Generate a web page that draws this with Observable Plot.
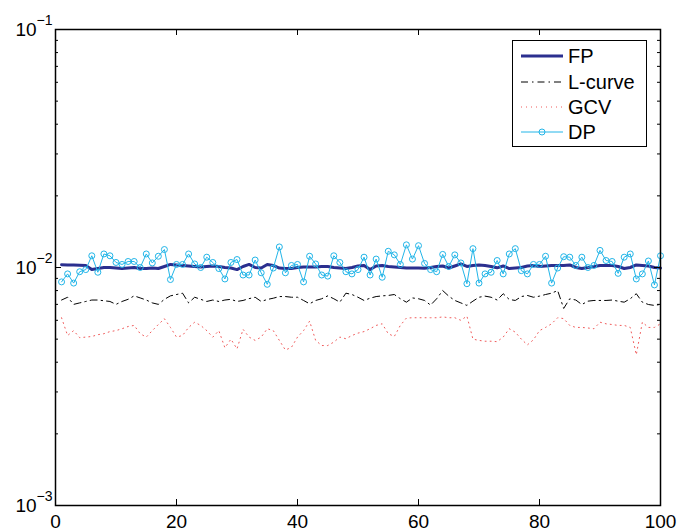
<!DOCTYPE html>
<html><head><meta charset="utf-8">
<script src="https://cdn.jsdelivr.net/npm/d3@7"></script>
<script src="https://cdn.jsdelivr.net/npm/@observablehq/plot@0.6"></script>
<style>
body{margin:0;background:#fff;}
#wrap{position:relative;width:679px;height:532px;font-family:'Liberation Sans',Arial,Helvetica,sans-serif;}
#legend{position:absolute;left:512px;top:40px;width:133px;height:105px;border:1.5px solid #000;background:#fff;}
.row{position:absolute;left:0;height:24px;display:flex;align-items:center;}
.row svg{margin-left:8px;}
.row span{margin-left:5px;font-size:20px;color:#000;line-height:24px;}
</style></head><body><div id="wrap"></div>
<script>
// iteration index (x) and series values (units of 1e-3)
const iterations = d3.range(1, 101);
const seriesNames = ["FP", "L-curve", "GCV", "DP"];
const fp = [10.26,10.25,10.24,10.22,10.2,9.8,9.9,10.0,10.0,9.95,9.9,9.95,10.0,9.9,9.9,9.95,9.9,10.1,10.3,10.25,
10.2,10.15,10.1,10.05,10.1,10.15,10.1,10.0,9.95,9.8,10.1,10.3,10.0,9.95,10.3,10.2,9.95,9.9,9.9,10.0,
10.05,10.05,10.05,10.1,10.1,10.0,9.95,9.9,10.0,10.15,10.2,9.8,10.15,10.2,10.1,10.05,10.0,9.95,9.95,9.95,
9.93,10.0,10.1,10.15,9.95,10.15,10.35,10.1,10.2,10.25,10.2,10.1,9.97,10.15,9.9,9.95,10.0,10.15,10.2,10.1,
10.15,10.2,10.2,10.2,10.25,10.0,9.9,10.0,10.1,10.2,10.2,10.2,10.1,9.9,10.0,10.25,10.2,10.15,10.0,9.95];
const lcurve = [7.3,7.5,7.0,7.1,7.2,7.3,7.3,7.25,7.2,7.0,7.2,7.35,7.6,7.45,7.3,7.1,7.0,7.35,7.6,7.7,
7.8,7.1,7.5,7.35,7.2,7.3,7.2,7.3,7.35,7.2,7.27,7.4,7.5,7.2,7.34,7.43,7.55,7.55,7.5,7.5,
7.27,7.04,7.27,7.39,7.6,7.39,7.15,7.8,7.7,7.5,7.27,7.43,7.55,7.6,7.63,7.7,7.39,7.15,7.45,7.39,
7.27,6.95,7.39,8.0,7.58,7.27,7.1,6.93,7.22,7.5,7.58,7.5,7.3,7.76,7.34,7.27,7.55,7.63,7.5,7.58,
7.7,7.8,8.0,6.73,7.39,7.3,6.99,7.22,7.27,7.27,7.27,7.3,7.22,7.15,7.39,7.76,7.15,6.99,6.93,7.0];
const gcv = [6.15,5.18,5.43,5.07,5.1,5.13,5.22,5.27,5.38,5.43,5.53,5.65,5.71,5.27,5.1,5.43,5.76,6.09,5.6,5.1,
5.18,5.6,5.89,5.71,5.43,5.1,5.43,4.6,5.0,4.55,5.5,5.1,4.94,5.1,5.53,5.43,4.94,4.5,4.62,5.1,
5.43,5.95,4.94,4.7,4.7,4.86,5.1,5.02,5.18,5.3,5.38,5.53,5.71,5.8,5.27,5.13,5.71,6.13,6.15,6.15,
6.15,6.15,6.15,6.2,6.15,6.15,6.0,6.25,5.0,4.94,4.9,4.9,4.88,5.1,5.53,5.35,5.0,4.73,4.97,5.43,
5.6,5.8,6.15,6.1,5.71,5.6,5.6,5.57,5.53,5.89,5.8,5.76,5.71,5.71,5.6,4.3,5.89,5.6,5.6,5.8];
const dp = [8.7,9.4,8.6,9.6,9.8,11.2,9.55,11.4,11.2,10.5,10.3,10.6,10.6,10.0,11.4,10.45,11.15,11.9,8.9,10.3,
10.3,11.4,10.35,10.0,11.05,10.5,9.9,8.95,10.5,10.8,9.3,9.3,10.75,9.5,8.5,9.95,12.2,9.5,10.2,10.3,
8.7,11.15,10.35,9.3,9.2,11.2,10.5,9.6,9.4,9.8,11.05,9.3,10.85,9.1,11.7,11.3,10.3,12.45,10.85,12.35,
10.4,9.8,9.6,11.35,10.1,11.3,10.45,8.55,12.0,8.6,9.4,9.55,10.7,9.4,11.4,12.0,9.7,9.4,10.3,10.3,
11.15,8.6,9.95,11.1,11.05,10.2,11.05,10.0,10.2,11.8,10.7,10.6,9.45,11.05,11.4,8.95,9.4,10.65,8.45,11.2];

const xTicks = [0, 20, 40, 60, 80, 100];
const yMajorTicks = [0.001, 0.01, 0.1];
const yMinorTicks = [0.002,0.003,0.004,0.005,0.006,0.007,0.008,0.009,0.02,0.03,0.04,0.05,0.06,0.07,0.08,0.09];

const colors = {FP: "#2b2f8f", "L-curve": "#000000", GCV: "#f05a5a", DP: "#22b5e8"};

const table = iterations.map((it, i) => ({
  it, fp: fp[i] * 1e-3, lc: lcurve[i] * 1e-3, gcv: gcv[i] * 1e-3, dp: dp[i] * 1e-3
}));

const W = 679, H = 532, mL = 55, mR = 19, mT = 29, mB = 27;
const pw = W - mL - mR, ph = H - mT - mB;

const chart = Plot.plot({
  width: W, height: H,
  marginLeft: mL, marginRight: mR, marginTop: mT, marginBottom: mB,
  style: {fontFamily: "'Liberation Sans', Arial, Helvetica, sans-serif", fontSize: "19px", background: "#fff", color: "#000", overflow: "visible"},
  x: {domain: [0, 100]},
  y: {type: "log", domain: [0.001, 0.1]},
  marks: [
    Plot.line(table, {x: "it", y: "fp", stroke: colors.FP, strokeWidth: 3}),
    Plot.line(table, {x: "it", y: "lc", stroke: colors["L-curve"], strokeWidth: 1, strokeDasharray: "7,4,1.5,4"}),
    Plot.line(table, {x: "it", y: "gcv", stroke: colors.GCV, strokeWidth: 1, strokeDasharray: "1,4"}),
    Plot.line(table, {x: "it", y: "dp", stroke: colors.DP, strokeWidth: 1}),
    Plot.dot(table, {x: "it", y: "dp", r: 3, stroke: colors.DP, fill: "none", strokeWidth: 1}),
    // inward ticks
    Plot.ruleX(xTicks, {x: d => d, insetTop: ph - 6, stroke: "#000"}),
    Plot.ruleX(xTicks, {x: d => d, insetBottom: ph - 6, stroke: "#000"}),
    Plot.ruleY(yMajorTicks, {y: d => d, insetRight: pw - 6, stroke: "#000"}),
    Plot.ruleY(yMajorTicks, {y: d => d, insetLeft: pw - 6, stroke: "#000"}),
    Plot.ruleY(yMinorTicks, {y: d => d, insetRight: pw - 3, stroke: "#000"}),
    Plot.ruleY(yMinorTicks, {y: d => d, insetLeft: pw - 3, stroke: "#000"}),
    Plot.axisX(xTicks, {tickSize: 0, tickPadding: 9, label: null}),
    Plot.axisY(yMajorTicks, {tickSize: 0, tickPadding: 3, label: null,
      tickFormat: d => String(Math.round(Math.log10(d))).replace("-", "\u2212")}),
    Plot.frame({stroke: "#000", strokeWidth: 1.5})
  ]
});

// turn exponent labels into 10 with a superscript
chart.querySelectorAll('g[aria-label="y-axis tick label"] text').forEach(t => {
  const e = t.textContent;
  t.textContent = "10";
  const sup = document.createElementNS("http://www.w3.org/2000/svg", "tspan");
  sup.setAttribute("dy", "-11");
  sup.setAttribute("font-size", "14");
  sup.textContent = e;
  t.appendChild(sup);
});

const wrap = document.getElementById("wrap");
wrap.appendChild(chart);

// legend
const legend = document.createElement("div");
legend.id = "legend";
const rowCenters = [15, 41, 66, 91];
seriesNames.forEach((name, i) => {
  const row = document.createElement("div");
  row.className = "row";
  row.style.top = (rowCenters[i] - 12) + "px";
  const s = d3.create("svg").attr("width", 42).attr("height", 12);
  const ln = s.append("line").attr("x1", 0).attr("x2", 42).attr("y1", 6).attr("y2", 6)
    .attr("stroke", colors[name]);
  if (name === "FP") ln.attr("stroke-width", 3);
  if (name === "L-curve") ln.attr("stroke-dasharray", "7,4,1.5,4");
  if (name === "GCV") ln.attr("stroke-dasharray", "1,4");
  if (name === "DP") s.append("circle").attr("cx", 21).attr("cy", 6).attr("r", 3)
    .attr("fill", "none").attr("stroke", colors.DP);
  row.appendChild(s.node());
  const sp = document.createElement("span");
  sp.textContent = name;
  row.appendChild(sp);
  legend.appendChild(row);
});
wrap.appendChild(legend);
</script></body></html>
